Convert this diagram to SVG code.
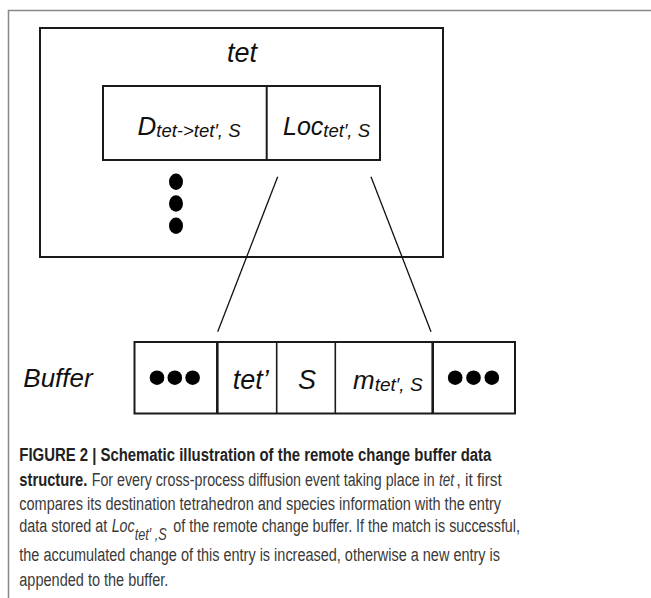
<svg xmlns="http://www.w3.org/2000/svg" width="651" height="598" viewBox="0 0 651 598">
<style>
.lbl{font-family:"Liberation Sans",Arial,sans-serif;font-style:italic;fill:#111}
.sub{font-family:"Liberation Sans",Arial,sans-serif;font-style:italic;fill:#111}
.box{fill:none;stroke:#1a1a1a;stroke-width:2}
.cap{font-family:"Liberation Sans",Arial,sans-serif;font-size:18px;fill:#3a3a3a}
.capb{font-weight:bold;fill:#222}
.it{font-style:italic}
.dot{fill:#000}
.conn{stroke:#111;stroke-width:1.3;fill:none}
</style>
<rect width="651" height="598" fill="#fff"/>
<path d="M8.5 598 V10.5 H651" fill="none" stroke="#888" stroke-width="1.5"/>

<g id="tet">
  <rect class="box" x="40" y="28" width="403" height="229"/>
  <text class="lbl" x="242" y="62" font-size="27" text-anchor="middle">tet</text>
  <g id="dots-v">
    <ellipse class="dot" cx="176" cy="181.7" rx="7" ry="8.2"/>
    <ellipse class="dot" cx="176" cy="203.5" rx="7" ry="8.2"/>
    <ellipse class="dot" cx="176" cy="225.7" rx="7" ry="8.2"/>
  </g>
</g>

<g id="entry">
  <rect class="box" x="103" y="86" width="277" height="74"/>
  <line x1="266.7" y1="86" x2="266.7" y2="160" stroke="#1a1a1a" stroke-width="2"/>
  <text class="lbl" x="137.5" y="135" font-size="26">D<tspan class="sub" font-size="18.5" dy="2">tet-&gt;tet′, S</tspan></text>
  <text class="lbl" x="283" y="135" font-size="25">Loc<tspan class="sub" font-size="18.5" dy="2">tet′, S</tspan></text>
</g>

<g id="connectors">
  <line class="conn" x1="277.7" y1="176.7" x2="217.7" y2="331.7"/>
  <line class="conn" x1="371" y1="176.7" x2="431" y2="331.7"/>
</g>

<g id="buffer">
  <text class="lbl" x="23.3" y="387" font-size="26">Buffer</text>
  <rect class="box" x="134.5" y="342" width="380.5" height="71.5" stroke-width="1.8"/>
  <line x1="217.3" y1="342" x2="217.3" y2="413.5" stroke="#1a1a1a" stroke-width="2.6"/>
  <line x1="276.7" y1="342" x2="276.7" y2="413.5" stroke="#1a1a1a" stroke-width="1.6"/>
  <line x1="335.3" y1="342" x2="335.3" y2="413.5" stroke="#1a1a1a" stroke-width="1.6"/>
  <line x1="432.7" y1="342" x2="432.7" y2="413.5" stroke="#1a1a1a" stroke-width="2.6"/>
  <g id="dots-left">
    <circle class="dot" cx="157" cy="377.7" r="7.3"/>
    <circle class="dot" cx="174.8" cy="377.7" r="7.3"/>
    <circle class="dot" cx="192.6" cy="377.7" r="7.3"/>
  </g>
  <text class="lbl" x="232.7" y="389" font-size="27">tet’</text>
  <text class="lbl" x="307" y="389" font-size="27" text-anchor="middle">S</text>
  <text class="lbl" x="353" y="389" font-size="26">m<tspan class="sub" font-size="19" dy="2">tet′, S</tspan></text>
  <g id="dots-right">
    <circle class="dot" cx="455.2" cy="377.7" r="7.3"/>
    <circle class="dot" cx="473.5" cy="377.7" r="7.3"/>
    <circle class="dot" cx="491.8" cy="377.7" r="7.3"/>
  </g>
</g>

<g id="caption">
  <text class="cap capb" x="19.3" y="461" textLength="472" lengthAdjust="spacingAndGlyphs">FIGURE 2 | Schematic illustration of the remote change buffer data</text>
  <text class="cap capb" x="19.3" y="485.5" textLength="68" lengthAdjust="spacingAndGlyphs">structure.</text>
  <text class="cap" x="91.7" y="485.5" textLength="343" lengthAdjust="spacingAndGlyphs">For every cross-process diffusion event taking place in</text>
  <text class="cap it" x="439" y="485.5" textLength="15" lengthAdjust="spacingAndGlyphs">tet</text>
  <text class="cap" x="456.5" y="485.5" textLength="45.2" lengthAdjust="spacingAndGlyphs">, it first</text>
  <text class="cap" x="19.3" y="510" textLength="481.7" lengthAdjust="spacingAndGlyphs">compares its destination tetrahedron and species information with the entry</text>
  <text class="cap" x="19.3" y="531.5" textLength="88" lengthAdjust="spacingAndGlyphs">data stored at</text>
  <text class="cap it" x="111.7" y="531.5" textLength="55" lengthAdjust="spacingAndGlyphs">Loc<tspan font-size="16" dy="8.5">tet′ ,S</tspan></text>
  <text class="cap" x="173.3" y="531.5" textLength="346.7" lengthAdjust="spacingAndGlyphs">of the remote change buffer. If the match is successful,</text>
  <text class="cap" x="19.3" y="561" textLength="480.7" lengthAdjust="spacingAndGlyphs">the accumulated change of this entry is increased, otherwise a new entry is</text>
  <text class="cap" x="19.3" y="585.5" textLength="149" lengthAdjust="spacingAndGlyphs">appended to the buffer.</text>
</g>
</svg>
